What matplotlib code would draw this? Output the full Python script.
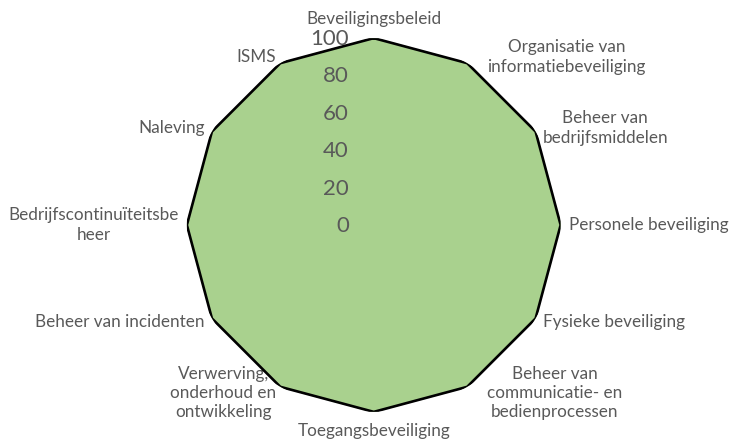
import numpy as np
import matplotlib
matplotlib.use("Agg")
import matplotlib.pyplot as plt
from matplotlib.transforms import offset_copy

categories = [
    "Beveiligingsbeleid",
    "Organisatie van\ninformatiebeveiliging",
    "Beheer van\nbedrijfsmiddelen",
    "Personele beveiliging",
    "Fysieke beveiliging",
    "Beheer van\ncommunicatie- en\nbedienprocessen",
    "Toegangsbeveiliging",
    "Verwerving,\nonderhoud en\nontwikkeling",
    "Beheer van incidenten",
    "Bedrijfscontinuïteitsbe\nheer",
    "Naleving",
    "ISMS",
]
values = [100, 100, 100, 100, 100, 100, 100, 100, 100, 100, 100, 100]
r_ticks = [0, 20, 40, 60, 80, 100]

plt.rcParams['font.family'] = ['Lato', 'DejaVu Sans']
txt_color = '#595959'

fig = plt.figure(figsize=(7.30, 4.41), dpi=100)
ax = fig.add_axes([0.256, 0.0658, 0.512, 0.848], projection='polar')
ax.set_theta_zero_location('N')
ax.set_theta_direction(-1)

n = len(categories)
theta = np.arange(n) * 2 * np.pi / n
tc = np.append(theta, theta[0])
vc = np.append(values, values[0])

ax.fill(tc, vc, color='#A9D18E', zorder=2)
ax.plot(tc, vc, color='black', lw=1.9, zorder=4, solid_joinstyle='miter')

ax.set_ylim(0, 100)
ax.set_xticks([])
ax.set_yticks([])
ax.grid(False)
ax.spines['polar'].set_visible(False)
ax.patch.set_alpha(0)

# radial tick labels
for t in r_ticks:
    tr = offset_copy(ax.transData, fig=fig, x=-25, y=-1, units='dots')
    ax.text(0, t, str(t), transform=tr, ha='right', va='center',
            fontsize=16, color=txt_color, zorder=3)

# category labels
for th, lab, v in zip(theta, categories, values):
    s, c = np.sin(th), np.cos(th)
    if s > 0.1:
        ha = 'left'
    elif s < -0.1:
        ha = 'right'
    else:
        ha = 'center'
    if c > 0.9:
        va = 'bottom'
    elif c < -0.9:
        va = 'top'
    else:
        va = 'center'
    dx = 8 * s
    dy = 7 * c
    if c > 0.9:
        dy = 11
    if c < -0.9:
        dy = -11
    if 0.1 < s and abs(c) > 0.8:
        dx += 16
    tr = offset_copy(ax.transData, fig=fig, x=dx, y=dy, units='dots')
    ax.text(th, v, lab, transform=tr, ha=ha, va=va, multialignment='center',
            fontsize=12.3, linespacing=1.25, color=txt_color, zorder=1,
            clip_on=False)

fig.savefig('out.png', dpi=100)
